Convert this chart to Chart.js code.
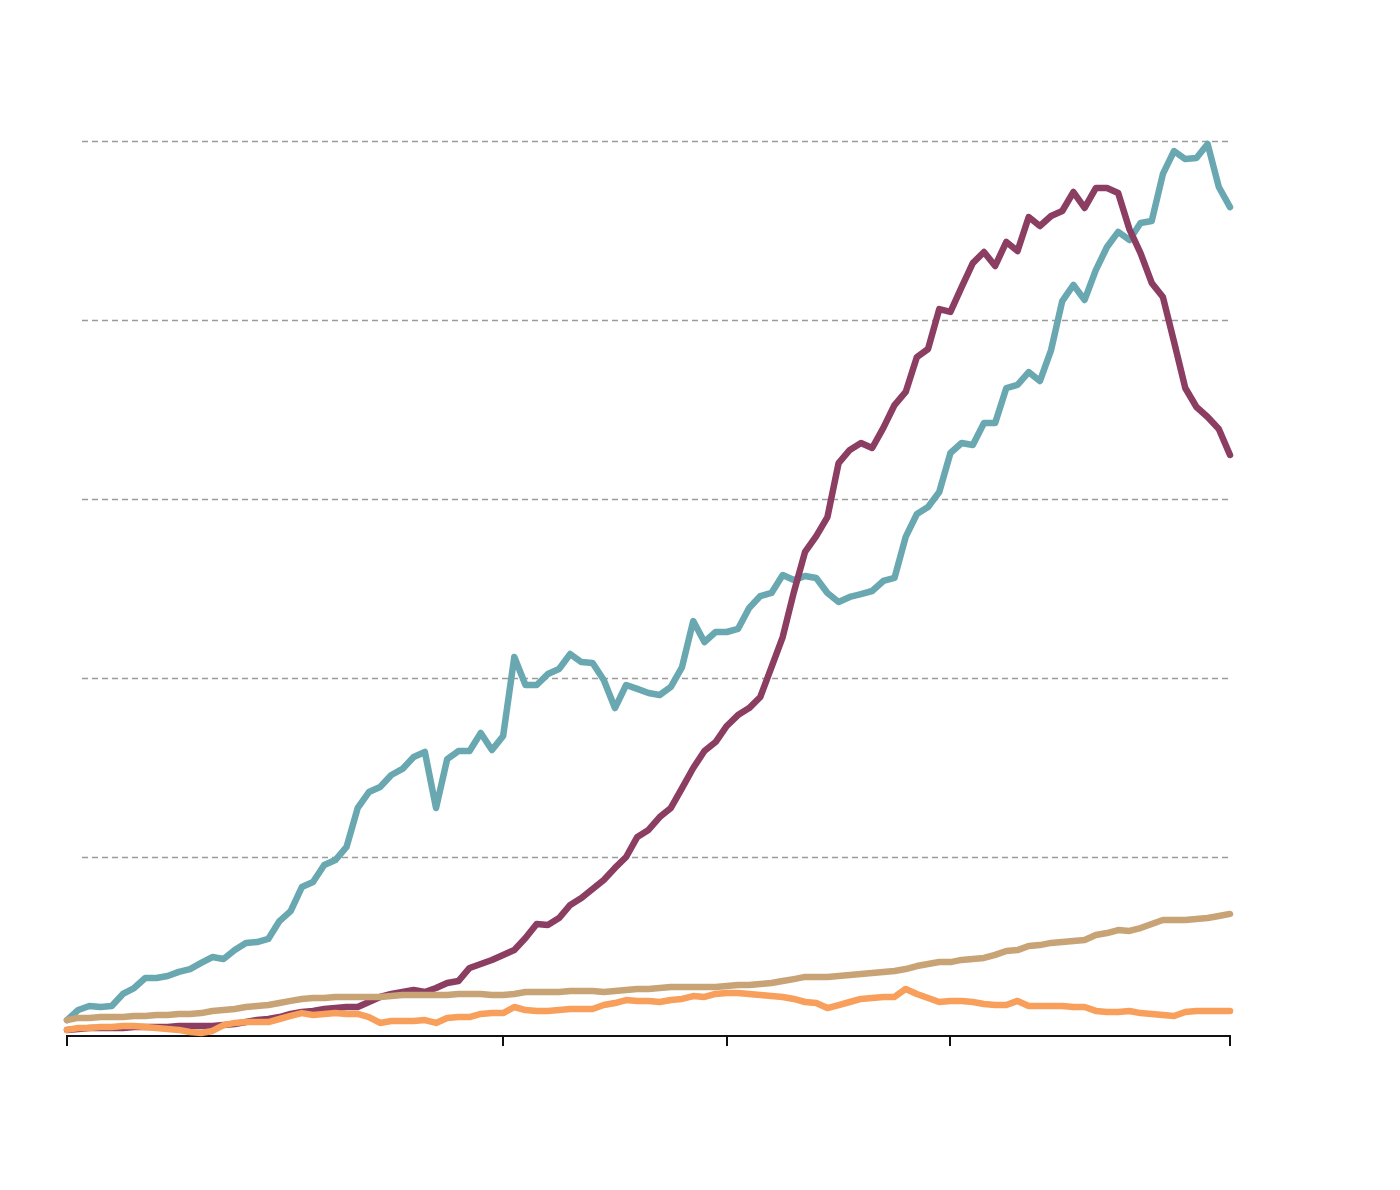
<!DOCTYPE html>
<html>
<head>
<meta charset="utf-8">
<style>
  html, body { margin: 0; padding: 0; background: #ffffff; }
  #wrap { width: 1400px; height: 1190px; }
</style>
<script src="https://cdn.jsdelivr.net/npm/chart.js@4"></script>
</head>
<body>
<div id="wrap"><canvas id="c" width="1400" height="1190"></canvas></div>
<script>
// ---- data (index-based periods, values in chart units) ----
const periods = Array.from({length: 105}, (_, i) => i);

const tealSeries = [
  8.9,14.5,16.8,16.2,16.8,23.5,26.8,32.4,32.4,33.5,
  35.8,37.4,40.8,44.1,43.0,48.0,52.0,52.5,54.2,64.2,
  69.8,83.2,86.0,95.5,98.3,105.6,127.4,136.3,139.1,145.8,
  149.2,155.9,158.7,127.4,154.7,159.2,159.2,169.3,159.8,167.6,
  211.7,196.1,196.1,202.2,205.0,213.4,208.9,208.4,198.9,183.2,
  196.1,193.9,191.6,190.5,195.0,206.1,231.8,220.1,225.7,225.7,
  227.4,239.1,245.8,247.5,257.5,254.7,257.0,255.9,247.5,242.5,
  245.3,246.9,248.6,254.2,255.9,278.8,291.6,295.5,303.9,325.7,
  331.3,330.2,342.5,342.5,362.0,363.7,370.9,365.9,383.2,410.6,
  419.6,411.2,427.9,440.8,449.2,444.7,454.2,455.3,481.6,494.4,
  489.9,490.5,498.3,474.3,463.1
];

const maroonSeries = [
  3.4,3.9,4.5,4.5,4.5,4.5,5.0,5.0,5.0,5.0,
  5.6,5.6,5.6,5.6,6.1,6.7,7.8,8.9,9.5,10.6,
  12.3,13.4,14.0,15.1,15.6,16.2,16.2,19.0,21.8,23.5,
  24.6,25.7,24.6,26.8,29.6,30.7,38.0,40.2,42.5,45.3,
  48.0,54.7,62.6,62.0,65.9,73.2,77.1,82.1,87.2,93.9,
  100.0,111.2,115.1,122.3,127.4,138.5,149.7,159.2,164.2,173.2,
  179.3,183.2,189.4,206.1,222.9,248.0,270.4,279.3,289.9,320.1,
  327.4,331.3,328.5,339.7,352.5,359.8,379.3,383.8,406.1,404.5,
  418.4,431.8,438.0,430.2,443.6,438.5,457.5,452.5,458.1,460.9,
  471.5,462.6,473.7,473.7,470.9,450.8,437.4,420.7,412.8,387.7,
  362.0,351.4,345.8,339.1,324.6
];

const tanSeries = [
  8.9,10.1,10.1,10.6,10.6,10.6,11.2,11.2,11.7,11.7,
  12.3,12.3,12.8,14.0,14.5,15.1,16.2,16.8,17.3,18.4,
  19.6,20.7,21.2,21.2,21.8,21.8,21.8,21.8,21.8,22.3,
  22.9,22.9,22.9,22.9,22.9,23.5,23.5,23.5,22.9,22.9,
  23.5,24.6,24.6,24.6,24.6,25.1,25.1,25.1,24.6,25.1,
  25.7,26.3,26.3,26.8,27.4,27.4,27.4,27.4,27.4,27.9,
  28.5,28.5,29.1,29.6,30.7,31.8,33.0,33.0,33.0,33.5,
  34.1,34.6,35.2,35.8,36.3,37.4,39.1,40.2,41.3,41.3,
  42.5,43.0,43.6,45.3,47.5,48.0,50.3,50.8,52.0,52.5,
  53.1,53.6,56.4,57.5,59.2,58.7,60.3,62.6,64.8,64.8,
  64.8,65.4,65.9,67.0,68.2
];

const orangeSeries = [
  3.4,4.5,4.5,5.0,5.0,5.6,5.6,5.0,4.5,3.9,
  3.4,2.2,1.7,2.8,6.1,7.3,7.8,7.8,7.8,9.5,
  11.2,12.8,11.7,12.3,12.8,12.3,12.3,10.6,7.3,8.4,
  8.4,8.4,8.9,7.3,10.1,10.6,10.6,12.3,12.8,12.8,
  16.2,14.5,14.0,14.0,14.5,15.1,15.1,15.1,17.3,18.4,
  20.1,19.6,19.6,19.0,20.1,20.7,22.3,21.8,23.5,24.0,
  24.0,23.5,22.9,22.3,21.8,20.7,19.0,18.4,15.6,17.3,
  19.0,20.7,21.2,21.8,21.8,26.3,23.5,21.2,19.0,19.6,
  19.6,19.0,17.9,17.3,17.3,19.6,16.8,16.8,16.8,16.8,
  16.2,16.2,14.0,13.4,13.4,14.0,12.8,12.3,11.7,11.2,
  13.4,14.0,14.0,14.0,14.0
];

const xTickIdx = [0, 39, 59, 79, 104];
const yGridValues = [100, 200, 300, 400, 500];

// ---- dashed horizontal gridlines inset from the left edge ----
const insetGrid = {
  id: 'insetGrid',
  beforeDatasetsDraw(chart) {
    const {ctx, chartArea, scales} = chart;
    ctx.save();
    ctx.strokeStyle = '#9b9b9b';
    ctx.lineWidth = 1.6;
    ctx.setLineDash([6, 4]);
    yGridValues.forEach(v => {
      const y = Math.round(scales.y.getPixelForValue(v)) + 0.5;
      ctx.beginPath();
      ctx.moveTo(chartArea.left + 15, y);
      ctx.lineTo(chartArea.right, y);
      ctx.stroke();
    });
    ctx.restore();
  }
};

const mk = (data, color) => ({
  data,
  borderColor: color,
  backgroundColor: color,
  borderWidth: 6.5,
  pointRadius: 0,
  tension: 0,
  borderCapStyle: 'round',
  borderJoinStyle: 'round',
  clip: false
});

// first dataset is drawn on top
new Chart(document.getElementById('c'), {
  type: 'line',
  data: {
    labels: periods,
    datasets: [
      mk(orangeSeries, '#f79f5b'),
      mk(tanSeries, '#c8a376'),
      mk(maroonSeries, '#8b3e62'),
      mk(tealSeries, '#69a8b1')
    ]
  },
  options: {
    responsive: false,
    animation: false,
    devicePixelRatio: 1,
    layout: { padding: { left: 67, right: 170, top: 141, bottom: 144 } },
    plugins: { legend: { display: false }, tooltip: { enabled: false }, title: { display: false } },
    scales: {
      x: {
        type: 'linear',
        min: 0,
        max: 104,
        afterBuildTicks: s => { s.ticks = xTickIdx.map(v => ({ value: v })); },
        ticks: { display: false },
        grid: { drawOnChartArea: false, drawTicks: true, tickLength: 10, color: '#111111', lineWidth: 2 },
        border: { display: true, color: '#111111', width: 2 }
      },
      y: {
        display: false,
        min: 0,
        max: 500
      }
    }
  },
  plugins: [insetGrid]
});
</script>
</body>
</html>
